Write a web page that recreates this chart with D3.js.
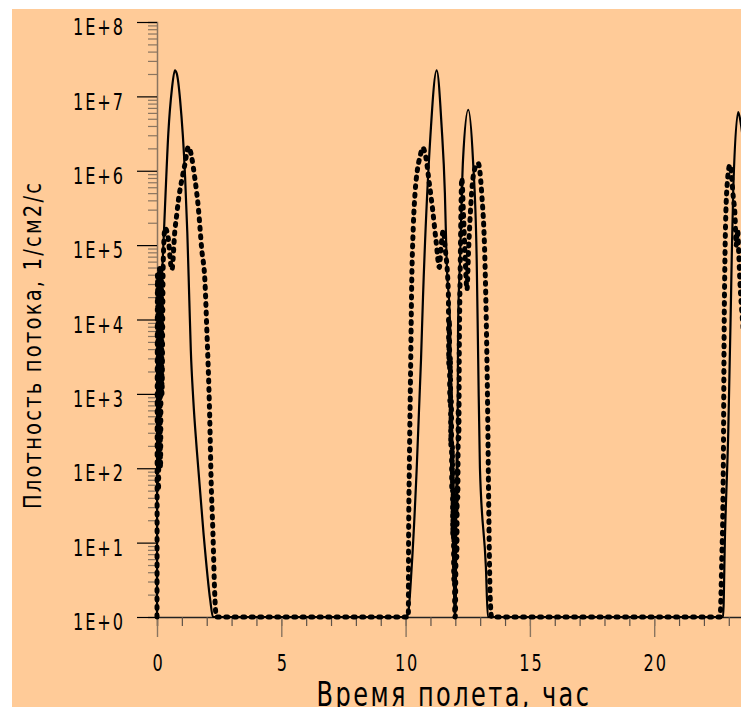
<!DOCTYPE html>
<html>
<head>
<meta charset="utf-8">
<script src="https://cdn.jsdelivr.net/npm/d3@7/dist/d3.min.js"></script>
<style>
body{margin:0;background:#fff;}
svg{display:block;}
.lbl{font-family:'DejaVu Sans Condensed','DejaVu Sans',sans-serif;fill:#000;}
</style>
</head>
<body>
<svg id="chart" width="741" height="707"></svg>
<script>
// flight time, hours / flux as powers of ten (1E+n)
var solidT = [0, 0.005, 0.05, 0.19, 0.32, 0.455, 0.6, 0.72, 0.8, 0.93, 1.13, 1.22, 1.30, 1.36, 1.46, 1.60, 1.87, 2.14, 2.25,
	10.0, 10.10, 10.245, 10.45, 10.62, 10.70, 10.98, 11.25, 11.45, 11.58, 11.65, 11.79,
	11.83, 11.86, 11.89, 11.92, 11.95, 11.98, 12.02, 12.05, 12.08, 12.11, 12.19, 12.31, 12.52, 12.71, 12.86, 12.92, 12.99, 13.23, 13.31,
	22.77, 22.85, 22.98, 23.08, 23.12, 23.18, 23.38, 23.5, 23.7, 24];
var solidExp = [0, 3.5, 3.8, 4.5, 5.5, 6.5, 7.1, 7.35, 7.3, 6.95, 5.92, 5.16, 4.26, 3.59, 2.92, 2.25, 1.13, 0.23, 0,
	0, 0.05, 0.67, 2.02, 3.46, 4.3, 6.37, 7.35, 6.59, 5.70, 4.8, 3.9,
	2.4, 3.1, 1.0, 2.0, 0.3, 0, 0.2, 2.2, 1.4, 3.9, 4.8, 6.15, 6.82, 6.15, 4.8, 3.46, 2.0, 0.67, 0,
	0, 1.13, 2.5, 4.13, 4.84, 5.74, 6.79, 6.6, 6.0, 5.0];

var dotT = [0, 0.02, 0.06, 0.1, 0.14, 0.18, 0.2, 0.25, 0.32, 0.45, 0.55, 0.6, 0.72, 0.79, 0.86, 1.0, 1.13, 1.26, 1.53, 1.66, 1.80, 1.93, 2.0, 2.12, 2.18, 2.25, 2.32, 2.39,
	10.11, 10.12, 10.15, 10.21, 10.24, 10.31, 10.38, 10.47, 10.58, 10.69, 10.82, 10.95, 11.09, 11.22, 11.36, 11.42, 11.52, 11.58, 11.72,
	11.74, 11.76, 11.78, 11.80, 11.82, 11.84, 11.86, 11.88, 11.90, 11.92, 11.94, 11.96, 11.98, 12.0, 12.02, 12.04, 12.06, 12.08, 12.10, 12.12, 12.14, 12.16, 12.19,
	12.26, 12.33, 12.4, 12.47, 12.53, 12.6, 12.71, 12.85, 12.92, 13.06, 13.19, 13.26, 13.3, 13.34, 13.4, 13.46,
	22.65, 22.72, 22.76, 22.78, 22.82, 22.92, 23.05, 23.18, 23.25, 23.3, 23.36, 23.4, 23.45, 23.55, 24];
var dotExp = [0, 4.6, 1.7, 4.7, 2.0, 4.6, 3.0, 4.75, 5.23, 5.1, 4.75, 4.67, 5.2, 5.4, 5.6, 5.88, 6.1, 6.32, 5.88, 5.51, 4.94, 4.5, 3.9, 2.69, 1.8, 1.13, 0.33, 0,
	0, 1.0, 2.0, 3.55, 4.36, 5.25, 5.7, 6.0, 6.19, 6.31, 6.17, 5.84, 5.47, 5.07, 4.7, 4.95, 5.2, 5.0, 4.36,
	3.4, 4.0, 2.9, 3.5, 2.3, 2.9, 1.7, 2.3, 1.1, 1.7, 0.5, 1.1, 0, 0, 0.6, 1.2, 0.8, 2.0, 1.6, 2.8, 2.4, 3.6, 4.5,
	5.9, 5.4, 4.8, 4.4, 4.9, 5.4, 5.9, 6.08, 6.1, 5.7, 4.8, 3.7, 2.8, 1.6, 0.3, 0,
	0, 0.8, 1.4, 2.0, 4.13, 5.74, 6.08, 5.65, 5.4, 5.0, 5.2, 4.9, 4.5, 4.0, 3.0];

var xTicks = [0, 5, 10, 15, 20];
var yExpTicks = [0, 1, 2, 3, 4, 5, 6, 7, 8];
var yTickLabels = ['1E+0', '1E+1', '1E+2', '1E+3', '1E+4', '1E+5', '1E+6', '1E+7', '1E+8'];
var xTitle = 'Время полета, час';
var yTitle = 'Плотность потока, 1/см2/с';

var svg = d3.select('#chart');
var axisCol = '#8a7560';

svg.append('rect').attr('x', 12).attr('y', 9).attr('width', 741).attr('height', 707).attr('fill', '#ffcb98');

var x = d3.scaleLinear().domain([0, 24]).range([157, 157 + 24 * 24.86]);
var y = d3.scaleLog().domain([1, 1e8]).range([617, 22]);

// minor ticks
var yMinor = [];
yExpTicks.slice(0, 8).forEach(function(e){
	for (var m = 2; m <= 9; m++) yMinor.push(m * Math.pow(10, e));
});
var gyMinor = svg.append('g').attr('transform', 'translate(157,0)')
	.call(d3.axisLeft(y).tickValues(yMinor).tickSize(9).tickFormat(''));
gyMinor.selectAll('.tick line').attr('stroke', axisCol).attr('stroke-width', 1.2);
gyMinor.select('.domain').attr('stroke', axisCol).attr('stroke-width', 1.5);

var gy = svg.append('g').attr('transform', 'translate(157,0)')
	.call(d3.axisLeft(y).tickValues(yExpTicks.map(function(e){ return Math.pow(10, e); }))
		.tickSize(20).tickFormat(function(d, i){ return yTickLabels[i]; }));
gy.select('.domain').remove();
gy.selectAll('.tick line').attr('stroke', '#000').attr('stroke-width', 1.2);
gy.selectAll('.tick text').attr('class', 'lbl').attr('x', 0).attr('dy', '0.55em')
	.attr('transform', 'translate(-32,0) scale(0.78,1)')
	.attr('text-anchor', 'end')
	.style('font-size', '23px').style('letter-spacing', '2.5px').attr('font-family', null);

var xMinor = d3.range(0, 25);
var gxMinor = svg.append('g').attr('transform', 'translate(0,617)')
	.call(d3.axisBottom(x).tickValues(xMinor).tickSize(9).tickFormat(''));
gxMinor.selectAll('.tick line').attr('stroke', '#5e5248').attr('stroke-width', 1.2);
gxMinor.select('.domain').attr('stroke', '#222').attr('stroke-width', 1.3);

var gx = svg.append('g').attr('transform', 'translate(0,617)')
	.call(d3.axisBottom(x).tickValues(xTicks).tickSize(20).tickFormat(d3.format('d')));
gx.select('.domain').remove();
gx.selectAll('.tick line').attr('stroke', axisCol).attr('stroke-width', 1.4);
gx.selectAll('.tick text').attr('class', 'lbl').attr('y', 0).attr('dy', 0)
	.attr('transform', 'translate(1,54) scale(0.78,1)')
	.style('font-size', '23px').style('letter-spacing', '2.5px').attr('font-family', null);

// axis titles
svg.append('text').attr('class', 'lbl')
	.attr('transform', 'translate(454,706) scale(0.81,1)')
	.attr('text-anchor', 'middle')
	.style('font-size', '33px').style('letter-spacing', '3px')
	.text(xTitle);

svg.append('text').attr('class', 'lbl')
	.attr('transform', 'translate(41,345) rotate(-90) scale(0.87,1)')
	.attr('text-anchor', 'middle')
	.style('font-size', '25px').style('letter-spacing', '2.5px')
	.text(yTitle);

// curves
var line = d3.line()
	.x(function(d){ return x(d.t); })
	.y(function(d){ return y(Math.pow(10, d.e)); })
	.curve(d3.curveMonotoneX);

var solid = solidT.map(function(t, i){ return {t: t, e: solidExp[i]}; });
var dotted = dotT.map(function(t, i){ return {t: t, e: dotExp[i]}; });

svg.append('path').datum(solid)
	.attr('d', line)
	.attr('fill', 'none').attr('stroke', '#000').attr('stroke-width', 2.2)
	.attr('stroke-linejoin', 'round');

svg.append('path').datum(dotted)
	.attr('d', line)
	.attr('fill', 'none').attr('stroke', '#000').attr('stroke-width', 5)
	.attr('stroke-linecap', 'round')
	.attr('stroke-dasharray', '2 6.5');
</script>
</body>
</html>
